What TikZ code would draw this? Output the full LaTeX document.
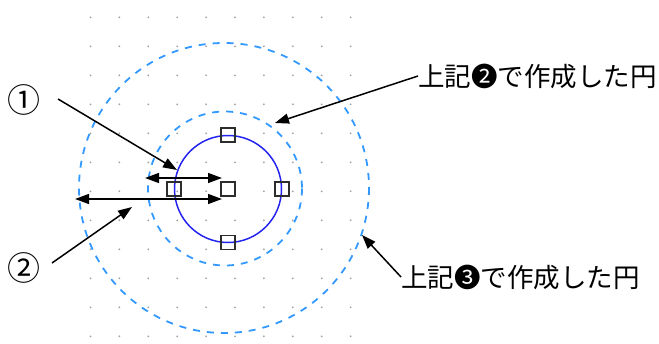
\documentclass[tikz,border=0pt]{standalone}
\usepackage{fontspec}
\newfontfamily\jp{Noto Sans CJK JP}
\usetikzlibrary{arrows.meta}
\definecolor{solidblue}{RGB}{35,35,240}
\definecolor{dashblue}{RGB}{51,153,255}
\definecolor{dotgray}{RGB}{160,160,160}
\definecolor{sqgray}{RGB}{45,45,45}
\begin{document}
\begin{tikzpicture}[x=1pt,y=-1pt,
  handle/.style={draw=sqgray,line width=1.8pt,minimum width=14pt,minimum height=14pt,inner sep=0pt},
  dashcircle/.style={draw=dashblue,line width=1.8pt,dash pattern=on 7pt off 7pt},
  pointer/.style={draw=black,line width=1.5pt,-{Triangle[length=14pt,width=10pt]}},
  dimarrow/.style={draw=black,line width=1.5pt,{Triangle[length=14pt,width=10pt]}-{Triangle[length=14pt,width=10pt]}},
  label/.style={font=\jp\fontsize{26.5}{30}\selectfont,inner sep=0pt},
  numlabel/.style={font=\jp\fontsize{33}{36}\selectfont,inner sep=0pt}]
\useasboundingbox (0,0) rectangle (659,343);
% grid of dots
\foreach \i in {0,...,9}
  \foreach \j in {0,...,11}
    \fill[dotgray] (90.5+28.9*\i,17.3+29*\j) circle (1pt);
% circles
\draw[dashcircle] (224,188) circle (145);
\draw[dashcircle] (225,188.5) circle (77);
\draw[solidblue,line width=1.5pt] (228,189) circle (53.5);
% handles
\node[handle] (sqC) at (228,189) {};
\node[handle] (sqL) at (174,189) {};
\node[handle] (sqR) at (282,189) {};
\node[handle] (sqT) at (228,135) {};
\node[handle] (sqB) at (228,242.5) {};
% dimension arrows
\coordinate (d1a) at (145,178);
\coordinate (d1b) at (222,178);
\coordinate (d2a) at (75,199);
\coordinate (d2b) at (222,199);
\draw[dimarrow] (d1a) -- (d1b);
\draw[dimarrow] (d2a) -- (d2b);
% labels
\node[numlabel] (n1) at (24.5,100) {①};
\node[numlabel] (n2) at (24.5,268) {②};
\node[label,anchor=west] (t2) at (418,76) {上記❷で作成した円};
\node[label,anchor=west] (t3) at (401,277) {上記❸で作成した円};
% pointer targets
\coordinate (p1s) at (58,99);
\coordinate (p1e) at (177,170);
\coordinate (p2s) at (52,263);
\coordinate (p2e) at (132,207);
\coordinate (p3e) at (275,123);
\coordinate (p4e) at (362,235);
\draw[pointer] (p1s) -- (p1e);
\draw[pointer] (p2s) -- (p2e);
\draw[pointer] (t2.west) -- (p3e);
\draw[pointer] (t3.west) -- (p4e);
\end{tikzpicture}
\end{document}
